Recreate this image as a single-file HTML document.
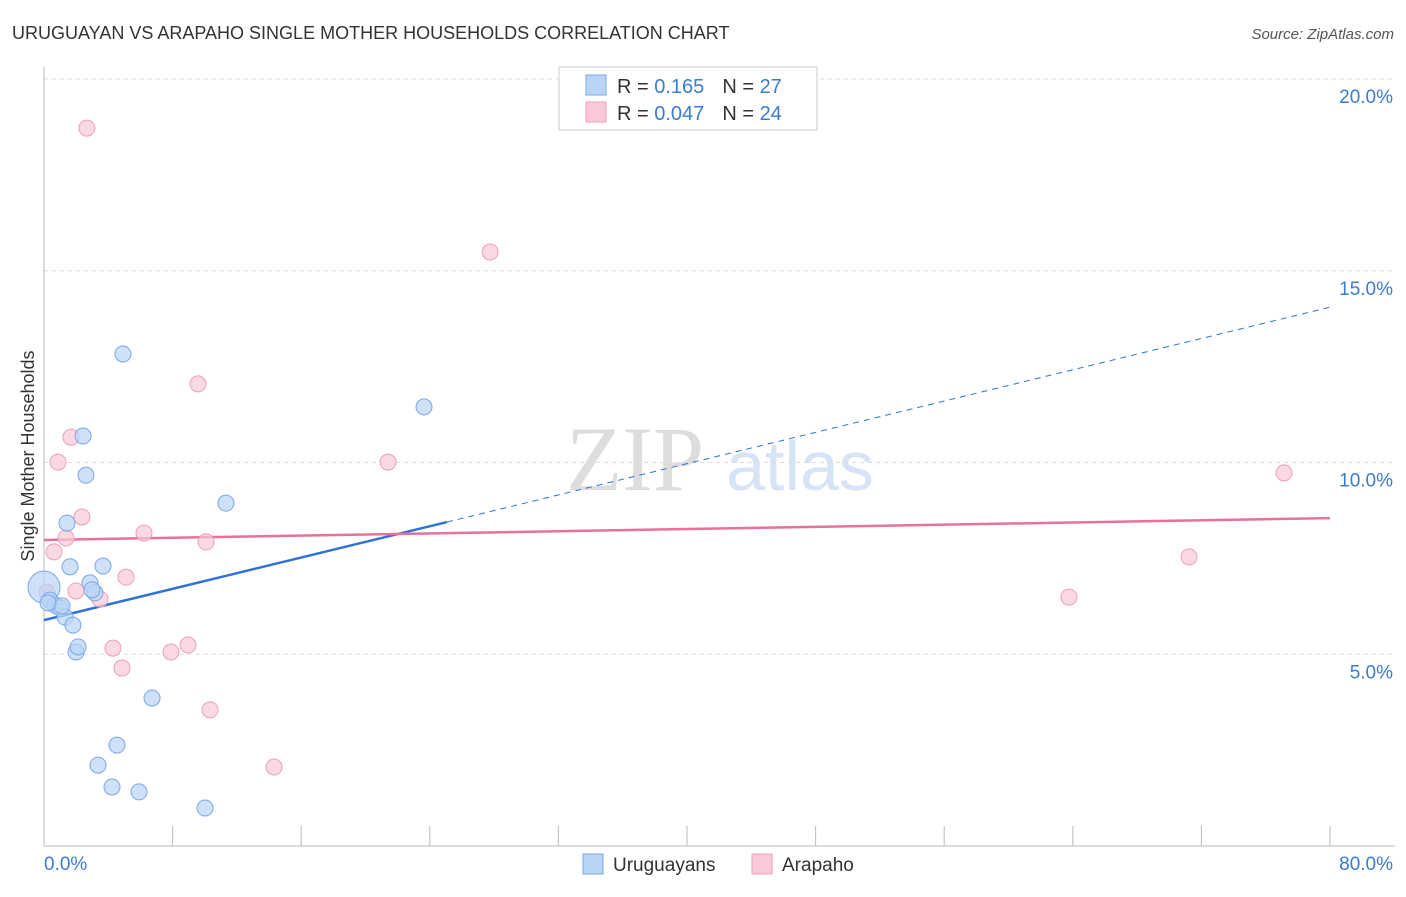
<!DOCTYPE html>
<html><head><meta charset="utf-8"><style>
body{margin:0;background:#fff;font-family:"Liberation Sans",sans-serif}
</style></head><body>
<svg id="c" width="1406" height="892" xmlns="http://www.w3.org/2000/svg" style="font-family:'Liberation Sans',sans-serif">
<text x="12" y="39" font-size="18" fill="#333">URUGUAYAN VS ARAPAHO SINGLE MOTHER HOUSEHOLDS CORRELATION CHART</text>
<text x="1394" y="39" font-size="15" fill="#555" text-anchor="end" font-style="italic">Source: ZipAtlas.com</text>
<text x="34" y="456" font-size="18" fill="#333" text-anchor="middle" transform="rotate(-90 34 456)">Single Mother Households</text>
<g><text x="635" y="490" font-size="92" fill="#ddd" font-family="Liberation Serif,serif" text-anchor="middle">ZIP</text><text x="800" y="490" font-size="70" fill="#d6e4f5" text-anchor="middle">atlas</text></g>
<g id="grid"></g><g id="axes"></g><g id="lines"></g><g id="pts"></g>
<g>
<rect x="559" y="67" width="258" height="63" fill="#fff" stroke="#ccc"/>
<rect x="586" y="75" width="20" height="20" fill="#b9d4f6" stroke="#7aa7e6"/>
<rect x="586" y="102" width="20" height="20" fill="#fac9d7" stroke="#ee9fb8"/>
<text x="617" y="93" font-size="20" fill="#333">R = <tspan fill="#3a7bd5"> 0.165</tspan><tspan dx="18">N = </tspan><tspan fill="#3a7bd5">27</tspan></text>
<text x="617" y="120" font-size="20" fill="#333">R = <tspan fill="#3a7bd5">0.047</tspan><tspan dx="18">N = </tspan><tspan fill="#3a7bd5">24</tspan></text>
</g>
<g>
<rect x="583" y="854" width="20" height="20" fill="#b9d4f6" stroke="#7aa7e6"/>
<text x="613" y="871" font-size="19" fill="#333">Uruguayans</text>
<rect x="752" y="854" width="20" height="20" fill="#fac9d7" stroke="#ee9fb8"/>
<text x="782" y="871" font-size="19" fill="#333">Arapaho</text>
</g>
</svg>
<script>
const yTicks=[5,10,15,20];
const yTickLabels=["5.0%","10.0%","15.0%","20.0%"];
const xTickLabels=["0.0%","80.0%"];
const uruX=[0,0.37,0.68,1.0,1.31,1.80,1.99,2.12,1.43,1.62,2.43,2.61,2.86,3.17,3.67,4.91,4.54,3.36,4.23,5.91,6.72,10.02,11.32,23.64,2.99,1.12,0.25];
const uruY=[6.75,6.41,6.28,6.21,5.97,5.76,5.06,5.19,8.42,7.28,10.69,9.67,6.86,6.60,7.30,12.83,2.63,2.11,1.54,1.41,3.86,0.99,8.94,11.45,6.68,6.26,6.34];
const araX=[2.67,27.75,9.58,1.68,0.87,21.40,2.36,6.22,1.37,10.08,0.62,5.10,1.99,3.48,0.19,4.29,7.90,8.96,4.85,10.33,14.31,63.76,71.23,77.14];
const araY=[18.72,15.49,12.05,10.66,10.01,10.01,8.58,8.16,8.03,7.93,7.67,7.01,6.65,6.44,6.62,5.16,5.06,5.24,4.64,3.55,2.06,6.49,7.54,9.73];
const uruTrend=[5.89,14.05];
const araTrend=[7.98,8.55];
const uruSolidEnd=25.07;
const X=v=>44+v*1286/80, Y=v=>846-v*38.35;
const NS="http://www.w3.org/2000/svg";
function mk(p,t,a){const e=document.createElementNS(NS,t);for(const k in a)e.setAttribute(k,a[k]);document.getElementById(p).appendChild(e);return e;}
yTicks.forEach((t,i)=>{
 const l=mk('grid','line',{x1:44,x2:1395,y1:Y(t),y2:Y(t),stroke:'#ddd','stroke-dasharray':'4 4'});
 
 
 const tx=mk('grid','text',{x:1393,y:Y(t)+24,'font-size':19,fill:'#3a7bd5','text-anchor':'end'});
 tx.textContent=yTickLabels[i];
 
 
});
let a=mk('axes','line',{x1:44,x2:44,y1:67,y2:846,stroke:'#bbb'});


a=mk('axes','line',{x1:44,x2:1395,y1:846,y2:846,stroke:'#bbb'});


for(let i=0;i<=10;i++){const t=mk('axes','line',{x1:X(i*8),x2:X(i*8),y1:826,y2:846,stroke:'#bbb'});
 
 }
[[0,'start',44],[1,'end',1393]].forEach(([i,an,x])=>{const t=mk('axes','text',{x:x,y:870,'font-size':19,fill:'#3a7bd5','text-anchor':an});t.textContent=xTickLabels[i];
 
 });
const ut=v=>uruTrend[0]+(uruTrend[1]-uruTrend[0])*v/80;
let l=mk('lines','line',{x1:X(0),y1:Y(ut(0)),x2:X(uruSolidEnd),y2:Y(ut(uruSolidEnd)),stroke:'#2f72d6','stroke-width':2.5});


l=mk('lines','line',{x1:X(uruSolidEnd),y1:Y(ut(uruSolidEnd)),x2:X(80),y2:Y(ut(80)),stroke:'#2f72d6','stroke-width':1,'stroke-dasharray':'6 5'});


l=mk('lines','line',{x1:X(0),y1:Y(araTrend[0]),x2:X(80),y2:Y(araTrend[1]),stroke:'#e8709a','stroke-width':2.5});


araX.forEach((x,i)=>{const c=mk('pts','circle',{cx:X(x),cy:Y(araY[i]),r:8,fill:'#fac9d7','fill-opacity':0.7,stroke:'#ee9fb8'});
 
 });
uruX.forEach((x,i)=>{const c=mk('pts','circle',{cx:X(x),cy:Y(uruY[i]),r:i==0?16:8,fill:'#b9d4f6','fill-opacity':0.7,stroke:'#7aa7e6'});
 
 });
</script>
</body></html>
